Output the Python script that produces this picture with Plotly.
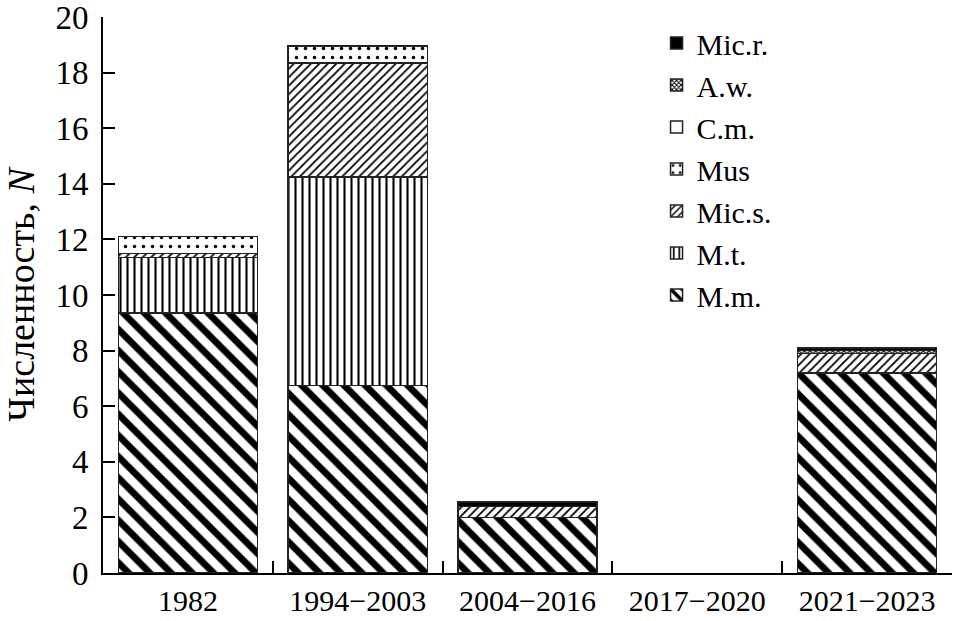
import plotly.graph_objects as go

categories = ["1982", "1994−2003", "2004−2016", "2017−2020", "2021−2023"]
m_m = [9.35, 6.75, 2.0, 0, 7.2]
m_t = [2.0, 7.5, 0, 0, 0]
mic_s = [0.15, 4.1, 0.4, 0, 0.7]
mus = [0.6, 0.6, 0, 0, 0.0]
c_m = [0, 0, 0, 0, 0]
a_w = [0, 0, 0, 0, 0.1]
mic_r = [0, 0, 0.15, 0, 0.1]

FONT = "Times New Roman, Liberation Serif, Tinos, DejaVu Serif, serif"

series = [
    ("M.m.", m_m, dict(shape="\\", size=15, solidity=0.45)),
    ("M.t.", m_t, dict(shape="|", size=7, solidity=0.3)),
    ("Mic.s.", mic_s, dict(shape="/", size=6, solidity=0.3)),
    ("Mus", mus, dict(shape=".", size=9, solidity=0.12)),
    ("C.m.", c_m, None),
    ("A.w.", a_w, dict(shape="x", size=4, solidity=0.5)),
    ("Mic.r.", mic_r, "solid"),
]

fig = go.Figure()
for name, vals, pat in series:
    marker = dict(line=dict(color="#222", width=1.5))
    if pat == "solid":
        marker["color"] = "black"
    elif pat is None:
        marker["color"] = "white"
    else:
        marker["color"] = "white"
        marker["pattern"] = dict(fgcolor="black", bgcolor="white", fillmode="replace", **pat)
    yv = [v if v else None for v in vals]
    fig.add_trace(go.Bar(x=categories, y=yv, name=name, marker=marker, width=0.82))

fig.update_layout(
    width=958, height=621,
    barmode="stack",
    paper_bgcolor="white", plot_bgcolor="white",
    margin=dict(l=103, r=6, t=17, b=48, autoexpand=False),
    font=dict(family=FONT, size=30, color="black"),
    showlegend=True,
    legend=dict(
        traceorder="reversed",
        x=0.652, y=1.0, xanchor="left", yanchor="top",
        font=dict(family=FONT, size=30),
        bgcolor="rgba(0,0,0,0)",
        tracegroupgap=0,
    ),
)
fig.update_xaxes(
    type="category", range=[-0.5, 4.5],
    showline=True, linecolor="black", linewidth=2,
    ticks="inside", ticklen=12, tickwidth=1.5, tickcolor="black",
    tickson="boundaries", showgrid=False,
    tickfont=dict(family=FONT, size=30),
)
fig.update_yaxes(
    range=[0, 20], dtick=2,
    showline=True, linecolor="black", linewidth=2,
    ticks="inside", ticklen=12, tickwidth=1.5, tickcolor="black",
    showgrid=False, zeroline=False,
    tickfont=dict(family=FONT, size=33),
    ticklabeloverflow="allow",
    ticklabelstandoff=6,
    title=dict(text="Численность, <i>N</i>", font=dict(family=FONT, size=38), standoff=20),
)

fig.write_html(
    "out.html",
    config={"displayModeBar": False},
    post_script="document.body.style.margin='0';document.body.style.overflow='hidden';",
)
